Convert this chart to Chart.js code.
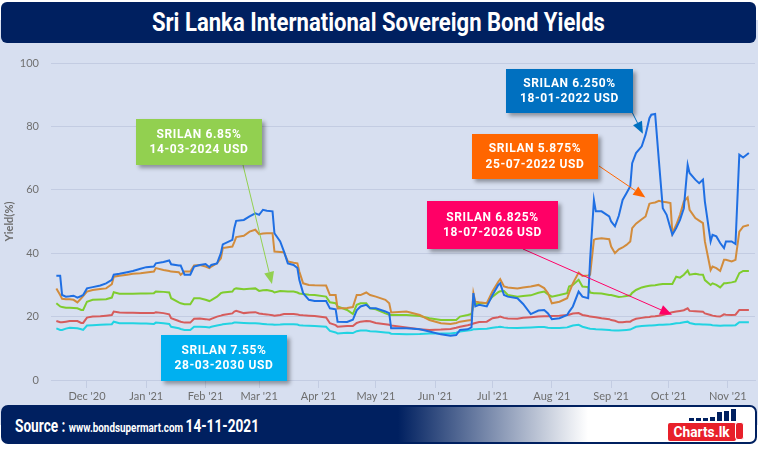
<!DOCTYPE html>
<html>
<head>
<meta charset="utf-8">
<script src="https://cdn.jsdelivr.net/npm/chart.js@4"></script>
<style>
  html, body { margin: 0; padding: 0; }
  body { width: 758px; height: 449px; position: relative; overflow: hidden; background: #fff; font-family: Roboto, sans-serif; }
  #panel { position: absolute; left: 0; top: 20px; width: 758px; height: 405px; background: #d7dff0; }
  #titleBar { position: absolute; left: 1px; top: 2px; width: 755px; height: 41px; background: #002060; border-radius: 6px;
    display: flex; align-items: center; justify-content: center; color: #fff; }
  #titleBar .fit { font-weight: 700; font-size: 25px; transform-origin: center center; }
  .fit { display: inline-block; white-space: nowrap; }
  #chartBox { position: absolute; left: 0; top: 50px; width: 758px; height: 355px; }
  .callout { position: absolute; color: #fff; font: 700 12px Roboto, sans-serif; letter-spacing: 0.6px; line-height: 15.5px;
    text-align: center; display: flex; flex-direction: column; justify-content: center; box-shadow: 3px 3px 4px rgba(0,0,0,0.35); z-index: 5; }
  #footer { position: absolute; left: 1px; top: 405px; width: 756px; height: 39px; box-sizing: border-box; border: 2px solid #002060; border-radius: 7px;
    background: linear-gradient(to right, #002060 0px, #002060 395px, #ffffff 585px, #ffffff 100%); }
  #source { position: absolute; left: 12px; top: 8px; color: #fff; font-weight: 700; transform-origin: left center; }
  #source .big { font-size: 18px; }
  #source .small { font-size: 13px; }
  #logo { position: absolute; left: 664px; top: 1px; width: 80px; height: 33px; }
  #logo .bars { position: absolute; left: 22px; top: 1px; width: 50px; height: 12px; display: flex; align-items: flex-end; gap: 2px; }
  #logo .bars i { display: block; width: 5px; background: #002060; }
  #logo .red { position: absolute; left: 1px; top: 15px; width: 68px; height: 18px; background: #e8202a; border-radius: 2px;
    color: #fff; font: 700 15px Roboto, sans-serif; line-height: 18px; text-align: center; }
  #logo .red .fit { transform-origin: center center; }
  #logo .thumb { position: absolute; left: 68px; top: 14px; width: 9px; height: 18px; background: #e8202a; border: 1.5px solid #fff; border-radius: 3px; box-sizing: border-box; }
</style>
</head>
<body>
<div id="panel"></div>
<div id="titleBar"><span class="fit" data-w="453">Sri Lanka International Sovereign Bond Yields</span></div>
<div id="chartBox"><canvas id="yieldChart"></canvas></div>

<div class="callout" style="left:506px; top:69px; width:127px; height:44px; background:#0070c0;">SRILAN 6.250%<br>18-01-2022 USD</div>
<div class="callout" style="left:472px; top:134px; width:126px; height:45px; background:#ff6600;">SRILAN 5.875%<br>25-07-2022 USD</div>
<div class="callout" style="left:427px; top:201px; width:131px; height:48px; background:#ff0066;">SRILAN 6.825%<br>18-07-2026 USD</div>
<div class="callout" style="left:136px; top:119px; width:126px; height:46px; background:#92d050;">SRILAN 6.85%<br>14-03-2024 USD</div>
<div class="callout" style="left:161px; top:335px; width:126px; height:46px; background:#00b0f0;">SRILAN 7.55%<br>28-03-2030 USD</div>

<div id="footer">
  <span id="source" class="fit" data-w="244"><span class="big">Source : </span><span class="small">www.bondsupermart.com </span><span class="big">14-11-2021</span></span>
  <div id="logo">
    <div class="bars"><i style="height:3px"></i><i style="height:3px"></i><i style="height:3px"></i><i style="height:4px"></i><i style="height:9px"></i><i style="height:10px"></i><i style="height:12px"></i></div>
    <div class="red"><span class="fit" data-w="56">Charts.lk</span></div>
    <div class="thumb"></div>
  </div>
</div>

<script>
// ---------------- DATA ----------------
// days counted from 14 Nov 2020
const days = [
  1, 3, 4, 6, 8, 10, 12, 14, 15, 17,
  20, 24, 27, 30, 31, 34, 38, 41, 45, 48,
  52, 53, 57, 60, 61, 65, 66, 68, 71, 73,
  76, 79, 81, 82, 85, 87, 88, 93, 94, 95,
  99, 102, 105, 107, 109, 111, 114, 115, 118, 120,
  122, 125, 127, 128, 130, 133, 136, 142, 144, 147,
  148, 153, 156, 158, 160, 163, 165, 168, 173, 175,
  176, 184, 191, 196, 202, 207, 210, 212, 216, 218,
  219, 220, 222, 226, 229, 232, 233, 235, 237, 242,
  245, 249, 253, 256, 258, 260, 264, 268, 269, 271,
  274, 276, 279, 280, 282, 283, 286, 290, 291, 293,
  295, 297, 299, 301, 302, 304, 307, 309, 311, 312,
  314, 316, 318, 320, 322, 323, 325, 327, 329, 331,
  332, 335, 337, 339, 340, 343, 344, 346, 348, 350,
  351, 354, 356, 358, 360, 363
];

// SRILAN 6.250% 18-01-2022 USD
const bond2022Jan = [
  32.9, 32.9, 26.8, 26.3, 26.4, 26.6, 26.0, 26.5, 26.8, 28.9,
  29.3, 29.8, 30.5, 31.6, 33.2, 33.5, 34.0, 34.4, 35.1, 35.6,
  35.8, 36.8, 37.2, 37.7, 36.5, 36.1, 36.1, 33.2, 33.2, 35.8,
  36.3, 36.6, 35.6, 36.3, 36.8, 40.0, 42.8, 44.2, 47.9, 50.2,
  50.5, 51.6, 52.6, 52.1, 53.7, 53.4, 53.2, 46.3, 43.7, 40.5,
  36.8, 36.3, 35.3, 31.6, 27.4, 25.3, 24.9, 24.9, 22.6, 22.3,
  18.4, 18.3, 19.0, 22.0, 23.2, 23.7, 22.6, 22.6, 21.6, 21.1,
  16.3, 16.3, 16.0, 15.3, 14.4, 14.0, 14.2, 15.8, 16.0, 16.6,
  27.4, 23.2, 23.7, 23.2, 26.8, 30.0, 30.5, 26.8, 26.3, 25.8,
  24.0, 20.8, 21.9, 22.1, 21.0, 19.2, 19.5, 20.5, 21.5, 23.2,
  27.9, 26.3, 25.8, 37.9, 56.8, 53.2, 53.2, 51.6, 50.0, 48.5,
  51.8, 56.8, 58.9, 61.1, 68.4, 71.6, 73.7, 77.4, 82.6, 83.7,
  83.9, 68.9, 54.2, 52.1, 47.9, 45.8, 47.9, 50.5, 54.2, 67.9,
  65.3, 63.2, 62.1, 63.2, 56.3, 43.7, 45.8, 45.3, 43.2, 41.6,
  43.7, 43.7, 42.9, 71.1, 70.2, 71.6
];

// SRILAN 5.875% 25-07-2022 USD
const bond2022Jul = [
  28.9, 26.8, 25.6, 25.5, 25.5, 25.3, 24.5, 25.8, 26.5, 27.9,
  28.4, 28.7, 28.9, 30.2, 32.6, 32.9, 33.2, 33.5, 33.7, 33.9,
  34.2, 35.3, 34.7, 34.4, 34.2, 34.0, 33.2, 34.2, 34.2, 36.1,
  36.3, 35.8, 35.3, 35.8, 36.8, 38.4, 41.6, 42.1, 43.5, 45.1,
  45.5, 46.8, 47.4, 46.0, 46.2, 46.3, 46.3, 40.5, 40.4, 40.3,
  37.4, 37.0, 36.8, 34.2, 30.5, 30.0, 29.9, 29.8, 26.8, 26.8,
  22.6, 22.7, 23.0, 26.8, 26.8, 27.6, 26.8, 26.3, 25.3, 24.2,
  21.3, 21.6, 20.5, 18.9, 17.9, 17.7, 18.0, 18.4, 18.8, 18.9,
  27.4, 24.7, 24.5, 24.2, 28.0, 31.0, 31.8, 29.5, 29.2, 28.9,
  29.2, 29.5, 30.0, 29.0, 27.4, 24.2, 24.7, 25.8, 27.5, 30.5,
  33.9, 32.8, 33.0, 33.2, 44.2, 44.5, 44.7, 44.4, 42.1, 40.0,
  41.2, 41.8, 42.6, 43.7, 47.9, 49.3, 50.7, 51.6, 55.6, 55.8,
  56.0, 56.5, 56.2, 56.1, 55.8, 46.3, 48.9, 52.1, 56.3, 57.6,
  53.7, 51.1, 50.3, 49.5, 43.7, 34.7, 35.8, 35.3, 34.4, 37.9,
  37.9, 37.4, 37.9, 46.8, 48.4, 48.9
];

// SRILAN 6.85% 14-03-2024 USD
const bond2024 = [
  24.2, 23.2, 23.0, 22.8, 22.8, 22.7, 22.6, 22.1, 22.1, 24.7,
  25.3, 25.4, 25.5, 26.0, 27.7, 27.2, 27.2, 27.2, 27.3, 27.3,
  27.4, 27.9, 27.8, 27.6, 25.8, 24.5, 24.2, 23.9, 23.9, 25.8,
  25.8, 25.3, 24.9, 25.2, 26.3, 27.4, 27.6, 27.9, 28.7, 28.9,
  28.6, 28.8, 28.9, 28.1, 28.3, 28.4, 28.0, 27.6, 28.1, 28.0,
  27.9, 27.9, 27.6, 27.3, 27.1, 26.9, 26.8, 26.3, 24.5, 24.2,
  23.2, 22.1, 20.8, 23.7, 24.2, 24.2, 22.6, 22.3, 21.0, 20.6,
  20.5, 20.5, 20.2, 19.5, 18.9, 18.9, 18.9, 20.0, 20.5, 20.8,
  23.7, 23.9, 24.2, 24.2, 26.3, 27.7, 28.0, 28.1, 26.8, 26.3,
  26.5, 26.7, 27.5, 27.9, 27.0, 26.3, 26.8, 27.4, 29.5, 30.0,
  31.6, 29.5, 29.3, 27.6, 27.4, 27.4, 27.3, 26.8, 26.8, 26.5,
  26.2, 26.3, 26.5, 26.7, 27.5, 28.4, 29.2, 29.5, 29.7, 29.8,
  29.9, 30.1, 30.3, 30.3, 30.3, 30.3, 32.6, 32.3, 33.2, 34.5,
  33.2, 33.5, 33.3, 33.2, 31.5, 30.0, 30.5, 30.0, 29.2, 30.5,
  30.5, 30.8, 31.1, 33.7, 34.4, 34.4
];

// SRILAN 6.825% 18-07-2026 USD
const bond2026 = [
  18.6, 18.2, 18.2, 18.4, 18.6, 18.6, 18.6, 18.0, 18.0, 19.7,
  20.0, 20.1, 20.3, 20.5, 21.6, 21.3, 21.2, 21.2, 21.1, 21.1,
  21.1, 21.4, 21.1, 20.7, 19.5, 18.6, 18.4, 18.1, 18.1, 19.3,
  19.4, 19.2, 19.0, 19.3, 20.0, 20.3, 20.5, 21.0, 21.6, 21.8,
  21.1, 21.3, 21.4, 21.0, 20.8, 20.7, 20.4, 20.3, 20.5, 20.8,
  20.8, 20.8, 20.7, 20.5, 20.4, 20.3, 20.2, 19.7, 17.9, 17.3,
  16.8, 17.0, 17.0, 18.0, 18.4, 18.6, 18.5, 18.0, 17.6, 17.4,
  17.2, 16.6, 16.0, 15.8, 15.9, 16.1, 16.5, 16.8, 17.3, 17.6,
  17.8, 18.0, 18.3, 18.4, 19.5, 19.8, 20.0, 19.6, 19.4, 19.3,
  19.6, 19.8, 20.0, 20.1, 20.1, 20.2, 20.3, 20.5, 20.6, 21.0,
  21.1, 20.5, 20.2, 20.0, 19.9, 19.8, 19.5, 19.2, 18.9, 18.7,
  18.2, 18.2, 18.4, 18.4, 18.8, 19.3, 19.6, 19.8, 19.9, 20.0,
  20.1, 20.3, 20.5, 20.8, 21.2, 21.4, 21.6, 21.8, 22.0, 22.6,
  21.8, 21.7, 21.6, 21.5, 21.0, 20.5, 20.3, 20.1, 20.0, 20.7,
  20.6, 20.5, 20.6, 22.1, 22.1, 22.1
];

// SRILAN 7.55% 28-03-2030 USD
const bond2030 = [
  16.3, 15.8, 15.8, 16.2, 16.5, 16.4, 16.3, 16.0, 15.8, 17.2,
  17.3, 17.4, 17.5, 17.6, 18.4, 17.9, 17.9, 17.9, 17.8, 17.8,
  17.7, 18.1, 17.9, 17.7, 16.8, 16.3, 16.1, 15.8, 15.8, 16.8,
  16.8, 16.7, 16.6, 16.8, 17.2, 17.4, 17.6, 17.9, 18.1, 18.1,
  18.0, 17.9, 17.9, 17.8, 17.7, 17.6, 17.5, 17.4, 17.5, 17.6,
  17.6, 17.6, 17.5, 17.3, 17.2, 17.1, 17.0, 16.8, 15.5, 15.0,
  14.7, 14.9, 14.8, 15.4, 15.6, 15.6, 15.4, 15.3, 15.0, 14.9,
  14.6, 14.4, 14.5, 14.7, 14.7, 14.7, 14.9, 15.3, 15.6, 15.8,
  16.0, 16.0, 16.1, 16.2, 16.5, 16.7, 16.8, 16.6, 16.5, 16.4,
  16.5, 16.6, 16.7, 16.7, 16.5, 16.4, 16.4, 16.6, 16.8, 17.2,
  17.4, 16.8, 16.3, 16.2, 16.1, 16.0, 15.9, 15.8, 15.7, 15.6,
  15.6, 15.7, 15.8, 15.9, 16.2, 16.8, 17.0, 17.1, 17.2, 17.2,
  17.3, 17.4, 17.4, 17.5, 17.6, 17.7, 17.9, 18.0, 18.2, 18.4,
  18.0, 17.6, 17.6, 17.5, 17.5, 17.4, 17.3, 17.2, 17.1, 17.2,
  17.2, 17.2, 17.3, 18.2, 18.2, 18.2
];

// month starts (days from 14 Nov 2020) and their labels
const monthDays = [17, 48, 79, 107, 138, 168, 199, 229, 260, 291, 321, 352];
const monthLabels = ["Dec '20", "Jan '21", "Feb '21", "Mar '21", "Apr '21", "May '21",
                     "Jun '21", "Jul '21", "Aug '21", "Sep '21", "Oct '21", "Nov '21"];
const yTicks = [0, 20, 40, 60, 80, 100];

// callout arrows: start on the box edge (page px), tip on a data position
const calloutArrows = [
  { from: [632, 112], day: 307.6, value: 77.7, color: "#0070c0" },
  { from: [599, 166], day: 308.9, value: 57.6, color: "#ff6600" },
  { from: [523, 249], day: 322.8, value: 20.6, color: "#ff0066" },
  { from: [243, 165], day: 113.7, value: 30.3, color: "#92d050" }
];

// ---------------- CHART ----------------
function toPoints(vals) {
  return days.map((d, i) => ({ x: d, y: vals[i] }));
}

function lineSet(vals, color) {
  return {
    data: toPoints(vals),
    borderColor: color,
    borderWidth: 2,
    pointRadius: 0,
    tension: 0,
    fill: false
  };
}

const arrowPlugin = {
  id: "arrows",
  afterDatasetsDraw(chart) {
    const { ctx, scales } = chart;
    calloutArrows.forEach(a => {
      const tx = scales.x.getPixelForValue(a.day);
      const ty = scales.y.getPixelForValue(a.value);
      const fx = a.from[0], fy = a.from[1] - 50;
      const ang = Math.atan2(ty - fy, tx - fx);
      const hl = 12, hw = 5;
      const bx = tx - hl * Math.cos(ang), by = ty - hl * Math.sin(ang);
      ctx.save();
      ctx.strokeStyle = a.color;
      ctx.fillStyle = a.color;
      ctx.lineWidth = 1;
      ctx.beginPath();
      ctx.moveTo(fx, fy);
      ctx.lineTo(bx, by);
      ctx.stroke();
      ctx.beginPath();
      ctx.moveTo(tx, ty);
      ctx.lineTo(bx + hw * Math.sin(ang), by - hw * Math.cos(ang));
      ctx.lineTo(bx - hw * Math.sin(ang), by + hw * Math.cos(ang));
      ctx.closePath();
      ctx.fill();
      ctx.restore();
    });
  }
};

const gridColor = "#c3cce2";

new Chart(document.getElementById("yieldChart"), {
  type: "line",
  data: {
    datasets: [
      lineSet(bond2022Jan, "#1f6fe3"),
      lineSet(bond2022Jul, "#d28c3c"),
      lineSet(bond2024, "#7fcc2e"),
      lineSet(bond2026, "#d65c5c"),
      lineSet(bond2030, "#22d3e2")
    ]
  },
  options: {
    responsive: true,
    maintainAspectRatio: false,
    animation: false,
    layout: { padding: { top: 13, right: 3, left: 0, bottom: 0 } },
    plugins: { legend: { display: false }, tooltip: { enabled: false } },
    scales: {
      x: {
        type: "linear",
        min: -1.8,
        max: 366.2,
        afterBuildTicks: s => { s.ticks = monthDays.map(v => ({ value: v })); },
        afterFit: s => { s.height = 25; },
        ticks: {
          autoSkip: false,
          maxRotation: 0,
          padding: 2,
          color: "#6e6e6e",
          font: { family: "Lato", size: 11 },
          callback: v => monthLabels[monthDays.indexOf(v)]
        },
        grid: { drawOnChartArea: false, drawTicks: true, tickLength: 8, color: gridColor },
        border: { display: true, color: gridColor }
      },
      y: {
        min: 0,
        max: 100,
        afterBuildTicks: s => { s.ticks = yTicks.map(v => ({ value: v })); },
        afterFit: s => { s.width = 51; s.paddingTop = 0; s.paddingBottom = 0; },
        ticks: { padding: 12, color: "#707070", font: { family: "Lato", size: 11 } },
        grid: { color: gridColor, drawTicks: false },
        border: { display: false },
        title: {
          display: true,
          text: "Yield(%)",
          color: "#6e6e6e",
          font: { family: "Lato", size: 11, weight: "bold" },
          padding: { top: 3, bottom: 0 }
        }
      }
    }
  },
  plugins: [arrowPlugin]
});

// ---------------- TEXT FIT ----------------
document.fonts.ready.then(() => {
  document.querySelectorAll(".fit").forEach(el => {
    const w = el.getBoundingClientRect().width;
    el.style.transform = `scaleX(${el.dataset.w / w})`;
  });
});
</script>
</body>
</html>
